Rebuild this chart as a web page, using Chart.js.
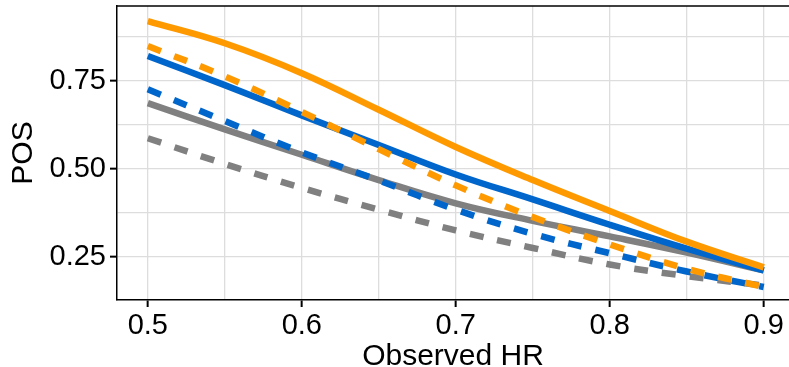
<!DOCTYPE html>
<html>
<head>
<meta charset="utf-8">
<script src="https://cdn.jsdelivr.net/npm/chart.js"></script>
<style>
  html, body { margin: 0; padding: 0; background: #fff; }
  #wrap { width: 789px; height: 367px; }
</style>
</head>
<body>
<div id="wrap"><canvas id="chart1" width="789" height="367"></canvas></div>
<script>
// observed HR grid
var hr = [0.5, 0.55, 0.6, 0.65, 0.7, 0.75, 0.8, 0.85, 0.9];

var orangeSolid = [0.920, 0.857, 0.772, 0.668, 0.562, 0.468, 0.380, 0.293, 0.220];
var blueSolid   = [0.821, 0.738, 0.652, 0.568, 0.484, 0.413, 0.341, 0.273, 0.211];
var graySolid   = [0.687, 0.612, 0.540, 0.468, 0.402, 0.352, 0.308, 0.262, 0.211];
var orangeDash  = [0.849, 0.763, 0.662, 0.556, 0.453, 0.363, 0.285, 0.216, 0.164];
var blueDash    = [0.726, 0.636, 0.547, 0.467, 0.384, 0.315, 0.260, 0.208, 0.164];
var grayDash    = [0.587, 0.514, 0.446, 0.384, 0.325, 0.275, 0.228, 0.195, 0.168];

var xTicks = [0.5, 0.55, 0.6, 0.65, 0.7, 0.75, 0.8, 0.85, 0.9];
var xLabels = ['0.5', '', '0.6', '', '0.7', '', '0.8', '', '0.9'];
var yTicks = [0.25, 0.375, 0.5, 0.625, 0.75, 0.875];
var yLabels = ['0.25', '', '0.50', '', '0.75', ''];

var ORANGE = '#ff9900', BLUE = '#0066cc', GRAY = '#808080';

function pts(arr) {
  return arr.map(function (v, i) { return { x: hr[i], y: v }; });
}
function line(data, color, dashed, order) {
  return {
    data: pts(data),
    borderColor: color,
    backgroundColor: color,
    borderWidth: 6.5,
    borderDash: dashed ? [14, 14] : [],
    borderCapStyle: 'butt',
    pointRadius: 0,
    fill: false,
    tension: 0.4,
    order: order
  };
}

var topBorder = {
  id: 'topBorder',
  afterDraw: function (chart) {
    var a = chart.chartArea, c = chart.ctx;
    c.save();
    c.strokeStyle = '#000';
    c.lineWidth = 1.5;
    c.beginPath();
    c.moveTo(a.left, a.top);
    c.lineTo(a.right + 5, a.top);
    c.stroke();
    c.restore();
  }
};

function isMajor(labels, ticks, v) {
  var i = ticks.indexOf(v);
  return i >= 0 && labels[i] !== '';
}

var ch1 = document.getElementById('chart1').getContext('2d');
var chart1 = new Chart(ch1, {
  type: 'line',
  data: {
    datasets: [
      line(graySolid, GRAY, false, 6),
      line(grayDash, GRAY, true, 5),
      line(blueSolid, BLUE, false, 4),
      line(blueDash, BLUE, true, 3),
      line(orangeSolid, ORANGE, false, 2),
      line(orangeDash, ORANGE, true, 1)
    ]
  },
  options: {
    responsive: false,
    animation: false,
    layout: { padding: { top: 6, left: 0, right: 0, bottom: 0 } },
    plugins: { legend: { display: false }, tooltip: { enabled: false } },
    scales: {
      x: {
        type: 'linear',
        min: 0.48,
        max: 0.9164,
        afterBuildTicks: function (s) { s.ticks = xTicks.map(function (v) { return { value: v }; }); },
        afterFit: function (s) { s.height = 67; s.paddingLeft = 0; s.paddingRight = 0; },
        ticks: {
          autoSkip: false,
          maxRotation: 0,
          padding: 2,
          color: '#000',
          font: { family: 'Liberation Sans', size: 29 },
          callback: function (v) { var i = xTicks.indexOf(v); return i >= 0 ? xLabels[i] : ''; }
        },
        grid: {
          color: '#dddddd',
          lineWidth: 1.3,
          tickLength: 7,
          tickWidth: 2,
          tickColor: function (c) { return c.tick && isMajor(xLabels, xTicks, c.tick.value) ? '#000' : 'rgba(0,0,0,0)'; }
        },
        border: { display: true, color: '#000', width: 1.5 },
        title: {
          display: true,
          text: 'Observed HR',
          color: '#000',
          font: { family: 'Liberation Sans', size: 30 },
          padding: { top: 0, bottom: -8 }
        }
      },
      y: {
        type: 'linear',
        min: 0.127,
        max: 0.963,
        afterBuildTicks: function (s) { s.ticks = yTicks.map(function (v) { return { value: v }; }); },
        afterFit: function (s) { s.width = 117; s.paddingTop = 0; s.paddingBottom = 0; },
        ticks: {
          autoSkip: false,
          padding: 4,
          color: '#000',
          font: { family: 'Liberation Sans', size: 29 },
          callback: function (v) { var i = yTicks.indexOf(v); return i >= 0 ? yLabels[i] : ''; }
        },
        grid: {
          color: '#dddddd',
          lineWidth: 1.3,
          tickLength: 7,
          tickWidth: 2,
          tickColor: function (c) { return c.tick && isMajor(yLabels, yTicks, c.tick.value) ? '#000' : 'rgba(0,0,0,0)'; }
        },
        border: { display: true, color: '#000', width: 1.5 },
        title: {
          display: true,
          text: 'POS',
          color: '#000',
          font: { family: 'Liberation Sans', size: 30 },
          padding: { top: 6, bottom: 0 }
        }
      }
    }
  },
  plugins: [topBorder]
});
</script>
</body>
</html>
